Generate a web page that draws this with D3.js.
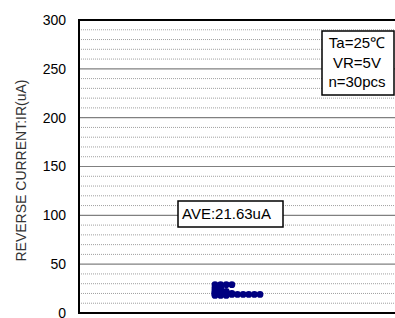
<!DOCTYPE html>
<html>
<head>
<meta charset="utf-8">
<script src="https://cdn.jsdelivr.net/npm/d3@7"></script>
<style>
  body { margin: 0; background: #fff; }
  text { font-family: "Liberation Sans", Arial, sans-serif; fill: #000; }
</style>
</head>
<body>
<div id="chart"></div>
<script>
// reverse current samples (uA), 30 pcs
var samples = [18, 18, 18,
               19, 19, 19, 19, 19, 19, 19, 19, 19,
               20, 20, 20, 20,
               21, 21, 21,
               22, 22, 22,
               24, 24,
               26, 26,
               29, 29, 29, 29];
var yTicks = [0, 50, 100, 150, 200, 250, 300];
var minorTicks = d3.range(10, 300, 10);
var conditions = ["Ta=25\u2103", "VR=5V", "n=30pcs"];
var aveLabel = "AVE:21.63uA";
var yTitle = "REVERSE CURRENT:IR(uA)";

const width = 395, height = 318;
const plotL = 79, plotT = 20, plotB = 313, plotR = 397;

var svg = d3.select("#chart").append("svg")
  .attr("width", width)
  .attr("height", height);

var y = d3.scaleLinear().domain([0, 300]).range([plotB, plotT]);
// horizontal stacking position of a dot inside its value row
var xs = d3.scaleLinear().domain([0, 8]).range([215, 260]);

// minor grid (dotted)
svg.append("g").selectAll("line")
  .data(minorTicks.filter(function(d) { return d % 50 != 0; }))
  .enter().append("line")
    .attr("x1", plotL).attr("x2", plotR)
    .attr("y1", function(d) { return y(d); })
    .attr("y2", function(d) { return y(d); })
    .style("stroke", "#a0a0a0")
    .style("stroke-width", 1)
    .style("stroke-dasharray", "1,1");

// major grid
svg.append("g").selectAll("line")
  .data(yTicks.filter(function(d) { return d > 0 && d < 300; }))
  .enter().append("line")
    .attr("x1", plotL).attr("x2", plotR)
    .attr("y1", function(d) { return y(d); })
    .attr("y2", function(d) { return y(d); })
    .style("stroke", "#808080")
    .style("stroke-width", 1.2);

// frame
svg.append("line").attr("x1", plotL).attr("x2", plotR)
  .attr("y1", y(300)).attr("y2", y(300))
  .style("stroke", "#000").style("stroke-width", 2);
svg.append("line").attr("x1", plotL).attr("x2", plotR)
  .attr("y1", y(0)).attr("y2", y(0))
  .style("stroke", "#000").style("stroke-width", 2);
svg.append("line").attr("x1", plotL).attr("x2", plotL)
  .attr("y1", y(300) - 1).attr("y2", y(0) + 1)
  .style("stroke", "#000").style("stroke-width", 2);

// y axis labels
var yAxis = d3.axisLeft(y).tickValues(yTicks).tickSize(0).tickPadding(13);
var ga = svg.append("g").attr("transform", "translate(" + plotL + ",0)").call(yAxis);
ga.select(".domain").remove();
ga.selectAll("text")
  .style("font-size", "14px")
  .style("font-family", "Liberation Sans, Arial, sans-serif")
  .attr("fill", "#000");

svg.append("text")
  .attr("transform", "translate(26," + ((plotT + plotB) / 2 + 4) + ") rotate(-90)")
  .attr("text-anchor", "middle")
  .style("font-size", "14px")
  .style("fill", "#333")
  .text(yTitle);

// dots, stacked sideways within each value
var seen = {};
var dots = samples.map(function(v) {
  seen[v] = (seen[v] || 0) + 1;
  return { v: v, i: seen[v] - 1 };
});
svg.append("g").selectAll("circle")
  .data(dots)
  .enter().append("circle")
    .attr("cx", function(d) { return xs(d.i); })
    .attr("cy", function(d) { return y(d.v); })
    .attr("r", 3.4)
    .style("fill", "#000080");

// average box
svg.append("rect")
  .attr("x", 178).attr("y", 201)
  .attr("width", 105).attr("height", 26)
  .style("fill", "#fff").style("stroke", "#000").style("stroke-width", 1.5);
svg.append("text")
  .attr("x", 182).attr("y", 219)
  .style("font-size", "15px")
  .text(aveLabel);

// conditions box
svg.append("rect")
  .attr("x", 322).attr("y", 31)
  .attr("width", 72).attr("height", 64)
  .style("fill", "#fff").style("stroke", "#000").style("stroke-width", 1.5);
svg.append("g").selectAll("text")
  .data(conditions)
  .enter().append("text")
    .attr("x", 357)
    .attr("y", function(d, i) { return 48 + i * 19.5; })
    .attr("text-anchor", "middle")
    .style("font-size", "15px")
    .text(function(d) { return d; });
</script>
</body>
</html>
